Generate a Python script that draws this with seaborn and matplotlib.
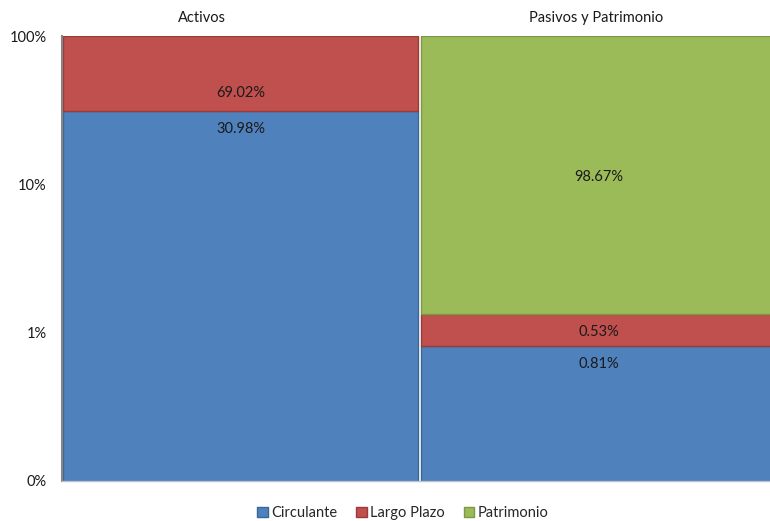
import matplotlib
matplotlib.use("Agg")
import matplotlib.pyplot as plt
import matplotlib.ticker as mticker
from matplotlib.patches import Patch
import seaborn as sns
import numpy as np

# ---- data ----
categories = ["Activos", "Pasivos y Patrimonio"]
series_names = ["Circulante", "Largo Plazo", "Patrimonio"]
circulante = [30.98, 0.81]
largo_plazo = [69.02, 0.53]
patrimonio = [0.0, 98.67]
ytick_values = [0.1, 1, 10, 100]
ytick_labels = ["0%", "1%", "10%", "100%"]

colors = ["#4F81BD", "#C0504D", "#9BBB59"]
edges = ["#3A6796", "#9A3B38", "#7B9845"]

sns.set_theme(style="white")
plt.rcParams["font.family"] = ["Lato", "DejaVu Sans"]
FS = 10.5
TXT = "#1a1a1a"

fig = plt.figure(figsize=(7.7, 5.21), dpi=100)
ax = fig.add_axes([62 / 770, 40 / 521, 708 / 770, 445 / 521])

series = [circulante, largo_plazo, patrimonio]
ymin = ytick_values[0] / 100.0
bottom = np.full(len(categories), ymin)
tops = []
for si, (vals, c, ec) in enumerate(zip(series, colors, edges)):
    frac = np.array(vals) / 100.0
    h = frac - ymin if si == 0 else frac
    mask = np.array(vals) > 0
    cats = [cat for cat, m in zip(categories, mask) if m]
    sns.barplot(x=cats, y=h[mask], bottom=bottom[mask], color=c, edgecolor=ec,
                linewidth=1.0, width=0.992, saturation=1, ax=ax, zorder=2,
                order=[cat for cat in categories if cat in cats] if len(cats) == len(categories) else None)
    new_top = bottom + h
    tops.append((bottom.copy(), new_top.copy(), vals))
    bottom = new_top

ax.set_yscale("log")
ax.set_ylim(ymin, 1.0)
ax.set_xlim(-0.4986, 1.479)
ax.yaxis.set_major_locator(mticker.FixedLocator([v / 100 for v in ytick_values]))
ax.yaxis.set_major_formatter(mticker.FixedFormatter(ytick_labels))
ax.yaxis.set_minor_locator(mticker.NullLocator())
ax.tick_params(axis="y", length=0, pad=11, labelsize=FS, labelcolor=TXT)
ax.set_xticks([])
ax.set_xlabel("")
ax.set_ylabel("")
for s in ["top", "right"]:
    ax.spines[s].set_visible(False)
ax.spines["left"].set_color("#868686")
ax.spines["left"].set_linewidth(1.5)
ax.spines["bottom"].set_color("#B8C4D4")
ax.spines["bottom"].set_linewidth(1.0)

# data labels (pixel offsets below each segment top)
label_offsets = {
    (0, 0): 18, (0, 1): 57,
    (1, 0): 18, (1, 1): 18, (1, 2): 141,
}
for si, (b, t, vals) in enumerate(tops):
    for ci in range(len(categories)):
        if vals[ci] <= 0:
            continue
        off = label_offsets.get((ci, si), 18)
        ax.annotate(f"{vals[ci]:.2f}%", xy=(ci, t[ci]), xytext=(0, -off),
                    textcoords="offset pixels", ha="center", va="center",
                    fontsize=FS, color=TXT, zorder=5)

# category titles on top
fig.text(202 / 770, 1 - 18 / 521, categories[0], ha="center", va="center",
         fontsize=FS, color=TXT)
fig.text(596 / 770, 1 - 18 / 521, categories[1], ha="center", va="center",
         fontsize=FS, color=TXT)

handles = [Patch(facecolor=c, edgecolor=ec, linewidth=1.0) for c, ec in zip(colors, edges)]
fig.legend(handles, series_names, loc="center", bbox_to_anchor=(403 / 770, 1 - 513 / 521),
           ncol=3, frameon=False, fontsize=FS, handlelength=0.7, handleheight=0.7,
           handletextpad=0.25, columnspacing=1.3, borderaxespad=0)

fig.savefig("out.png", dpi=100)
